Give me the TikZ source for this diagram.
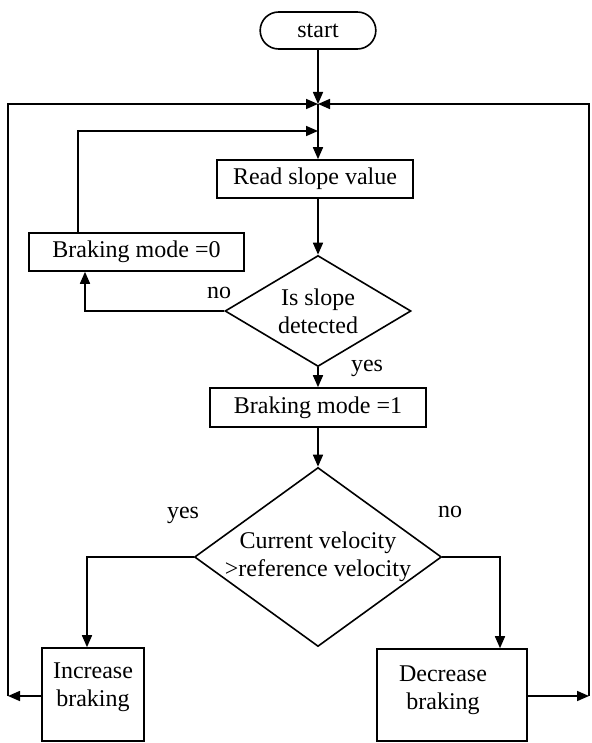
\documentclass[tikz,border=0pt]{standalone}
\usepackage{fontspec}
\setmainfont{Liberation Serif}
\usetikzlibrary{shapes.geometric,shapes.misc,arrows.meta}

\tikzset{
	box/.style={draw, line width=0.8pt, rectangle, inner sep=2pt, align=center, minimum height=19pt},
	decide/.style={draw, line width=0.8pt, diamond, inner sep=0pt, align=center},
	arr/.style={line width=0.8pt, -{Triangle[length=6pt,width=5pt]}},
}

\begin{document}
\begin{tikzpicture}[x=0.5pt,y=-0.5pt,font=\fontsize{12}{14}\selectfont]
\useasboundingbox (0,0) rectangle (591,743);

\pgfmathsetmacro{\fcMx}{318}
\pgfmathsetmacro{\fcLx}{8}   % outer loop, left
\pgfmathsetmacro{\fcRx}{589} % outer loop, right
\pgfmathsetmacro{\fcIx}{78}
\pgfmathsetmacro{\fcTop}{104}
\pgfmathsetmacro{\fcIn}{131}
\pgfmathsetmacro{\fcBot}{696}

\node[draw, line width=0.8pt, rounded rectangle, minimum width=64.5pt, minimum height=18.5pt] (start) at (\fcMx,30.5) {start};
\node[box, minimum width=98pt] (read) at (315,179) {Read slope value};
\node[box, minimum width=107.5pt] (bm0) at (136.5,252) {Braking mode =0};
\node[decide, shape aspect=1.68, minimum width=93pt, minimum height=55.5pt] (slope) at (\fcMx,311) {Is slope\\detected};
\node[box, minimum width=108pt, minimum height=19.5pt] (bm1) at (\fcMx,407.5) {Braking mode =1};
\node[decide, shape aspect=1.38, inner xsep=-16pt, minimum width=123.5pt, minimum height=89.5pt] (vel) at (\fcMx,557) {Current velocity\\>reference velocity};
\node[box, minimum width=51pt, minimum height=46.5pt] (inc) at (93,694.5) {Increase\\braking\\[-8pt]\strut};
\node[box, minimum width=75pt, minimum height=46pt] (dec) at (452,695) {Decrease\kern9pt\\braking\kern9pt\\[-11pt]\strut};

\node (no1) at (219,293) {no};
\node (yes1) at (367,368) {yes};
\node (yes2) at (183,515) {yes};
\node (no2) at (450,512) {no};

\coordinate (m1) at (\fcMx,\fcTop);
\coordinate (m2) at (\fcMx,\fcIn);
\coordinate (tl) at (\fcLx,\fcTop);
\coordinate (bl) at (\fcLx,\fcBot);
\coordinate (tr) at (\fcRx,\fcTop);
\coordinate (br) at (\fcRx,\fcBot);
\coordinate (il) at (\fcIx,\fcIn);
\coordinate (nl) at (85,311);

\draw[arr] (start) -- (m1);
\draw[arr] (m1) -- (m1 |- read.north);
\draw[arr] (il |- bm0.north) -- (il) -- (m2);
\draw[arr] (read.south -| m1) -- (slope);
\draw[arr] (slope.west) -- (nl) -- (nl |- bm0.south);
\draw[arr] (slope) -- (bm1);
\draw[arr] (bm1) -- (vel);
\draw[arr] (vel.west) -| ([xshift=-3pt]inc.north);
\draw[arr] (vel.east) -| ([xshift=24pt]dec.north);

% back to the top
\draw[arr] (inc.west |- bl) -- (bl);
\draw[arr] (bl) -- (tl) -- (m1);
\draw[arr] (dec.east |- br) -- (br);
\draw[arr] (br) -- (tr) -- (m1);
\end{tikzpicture}
\end{document}
